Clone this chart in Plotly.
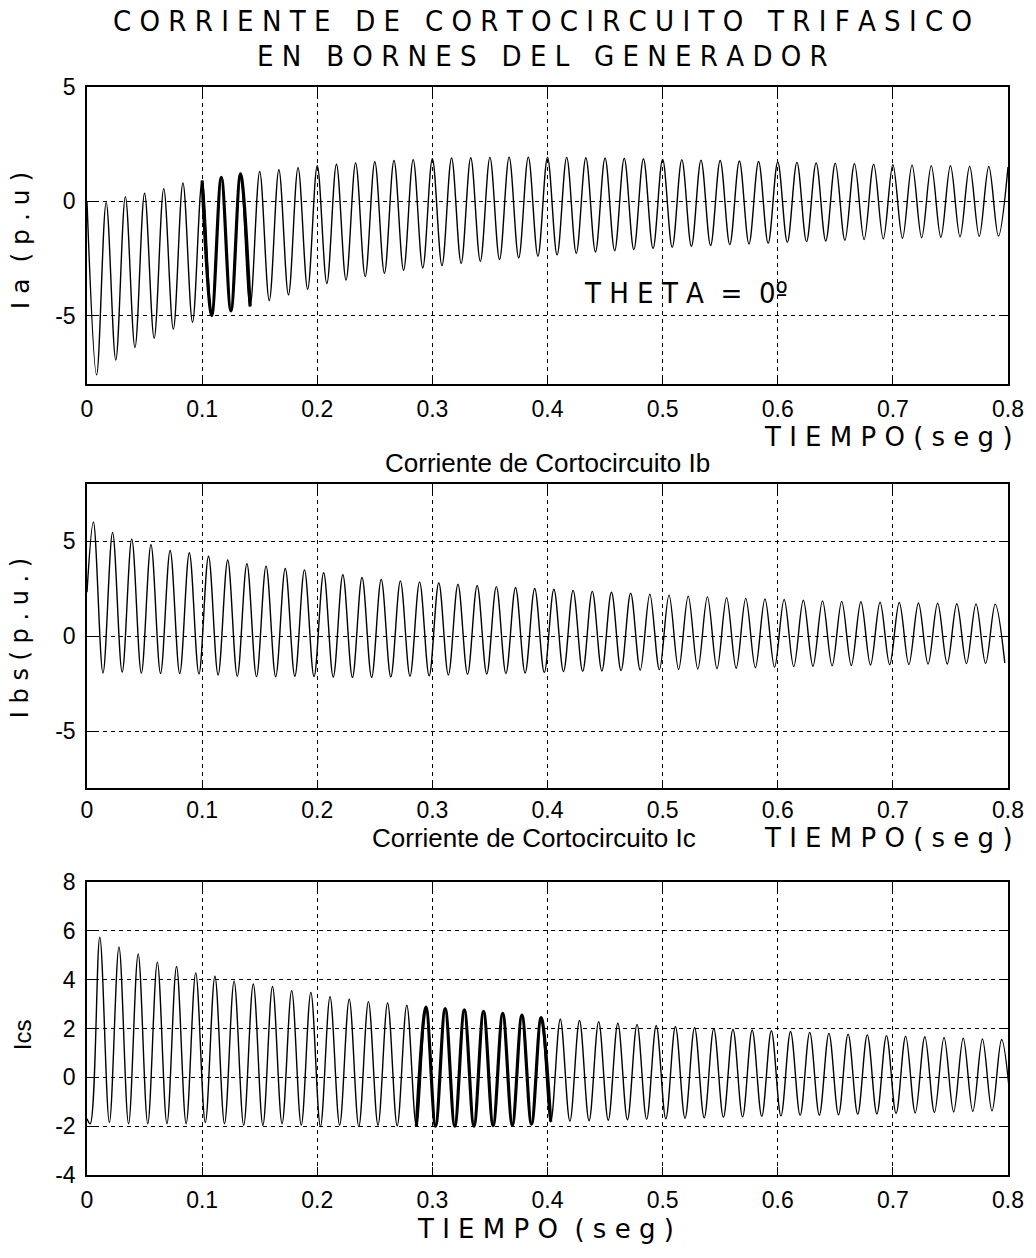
import plotly.graph_objects as go

# ---------------- data ----------------
FREQ_HZ = 60.0            # 48 cycles visible in 0..0.8 s

x_tick_vals = [0, 0.1, 0.2, 0.3, 0.4, 0.5, 0.6, 0.7, 0.8]
x_tick_text = ["0", "0.1", "0.2", "0.3", "0.4", "0.5", "0.6", "0.7", "0.8"]

# Phase a : peak values (one per cycle) and trough values (one per cycle)
ia_peak_t0 = 0.0
ia_trough_t0 = 1 / 120
ia_peaks = [0.0, -0.05, 0.2, 0.35, 0.55, 0.8, 0.9, 1.05, 1.2, 1.3, 1.38, 1.47,
            1.55, 1.62, 1.68, 1.73, 1.78, 1.82, 1.86, 1.89, 1.9, 1.92, 1.93, 1.93,
            1.92, 1.92, 1.9, 1.89, 1.88, 1.86, 1.84, 1.82, 1.8, 1.78, 1.76, 1.74,
            1.72, 1.7, 1.68, 1.66, 1.64, 1.62, 1.6, 1.58, 1.56, 1.55, 1.53, 1.52, 1.5]
ia_troughs = [-7.6, -6.95, -6.4, -6.0, -5.6, -5.3, -5.0, -4.8, -4.6, -4.35, -4.1, -3.85,
              -3.6, -3.45, -3.3, -3.15, -3.02, -2.92, -2.82, -2.72, -2.63, -2.55, -2.48, -2.41,
              -2.35, -2.28, -2.22, -2.17, -2.12, -2.07, -2.02, -1.98, -1.94, -1.9, -1.87, -1.84,
              -1.8, -1.77, -1.74, -1.71, -1.68, -1.65, -1.62, -1.6, -1.58, -1.56, -1.54, -1.52]
ia_start = None
ia_bold = (0.099, 0.143)

# Phase b
ib_peak_t0 = 1 / 180
ib_trough_t0 = 1 / 180 + 1 / 120
ib_peaks = [6.0, 5.45, 5.1, 4.8, 4.5, 4.38, 4.2, 4.0, 3.8, 3.68, 3.55, 3.48,
            3.33, 3.22, 3.08, 2.98, 2.9, 2.85, 2.8, 2.72, 2.66, 2.6, 2.55, 2.5,
            2.46, 2.4, 2.35, 2.3, 2.25, 2.2, 2.15, 2.1, 2.06, 2.02, 1.98, 1.95,
            1.92, 1.88, 1.85, 1.82, 1.8, 1.78, 1.76, 1.74, 1.72, 1.7, 1.69, 1.68]
ib_troughs = [-1.95, -1.9, -1.96, -1.97, -1.98, -2.0, -2.05, -2.12, -2.14, -2.14, -2.12, -2.14,
              -2.16, -2.18, -2.18, -2.15, -2.12, -2.1, -2.05, -2.02, -2.0, -1.98, -1.95, -1.92,
              -1.88, -1.86, -1.84, -1.82, -1.8, -1.78, -1.76, -1.74, -1.72, -1.7, -1.67, -1.64,
              -1.61, -1.59, -1.57, -1.55, -1.53, -1.51, -1.5, -1.48, -1.47, -1.45, -1.44, -1.42]
ib_start = 2.3
ib_bold = None

# Phase c
ic_peak_t0 = 1 / 90
ic_trough_t0 = 1 / 360
ic_peaks = [5.74, 5.34, 5.05, 4.72, 4.54, 4.28, 4.14, 3.94, 3.82, 3.72, 3.55, 3.48,
            3.3, 3.2, 3.1, 3.05, 2.95, 2.88, 2.82, 2.76, 2.7, 2.62, 2.55, 2.45,
            2.38, 2.33, 2.28, 2.22, 2.17, 2.12, 2.08, 2.04, 2.0, 1.97, 1.94, 1.91,
            1.88, 1.84, 1.8, 1.77, 1.74, 1.71, 1.68, 1.66, 1.63, 1.6, 1.57, 1.55]
ic_troughs = [-1.9, -1.85, -1.9, -1.9, -1.9, -1.9, -1.85, -1.9, -1.96, -1.96, -1.9, -1.96,
              -2.02, -1.96, -2.02, -1.96, -1.99, -2.0, -2.0, -2.0, -2.0, -1.98, -1.96, -1.92,
              -1.82, -1.8, -1.78, -1.76, -1.74, -1.72, -1.7, -1.68, -1.66, -1.64, -1.62, -1.6,
              -1.58, -1.56, -1.55, -1.53, -1.51, -1.5, -1.48, -1.46, -1.44, -1.42, -1.4, -1.38, -1.36]
ic_start = -1.7
ic_bold = (0.28, 0.405)

# ---------------- build waveforms ----------------
def waveform(peak_t0, peaks, trough_t0, troughs, start):
    pts = []
    if start is not None:
        pts.append((0.0, start))
    for k, v in enumerate(peaks):
        pts.append((peak_t0 + k / FREQ_HZ, v))
    for k, v in enumerate(troughs):
        pts.append((trough_t0 + k / FREQ_HZ, v))
    pts.sort()
    return [p[0] for p in pts], [p[1] for p in pts]

W = 1036
H = 1258
L, R, T, B = 87, 1010, 87, 1175   # plot-area pixel box


def px(x):
    return (x - L) / (R - L)


def py(y):
    return (B - y) / (B - T)


fig = go.Figure()
panels = [
    (ia_peak_t0, ia_peaks, ia_trough_t0, ia_troughs, ia_start, ia_bold),
    (ib_peak_t0, ib_peaks, ib_trough_t0, ib_troughs, ib_start, ib_bold),
    (ic_peak_t0, ic_peaks, ic_trough_t0, ic_troughs, ic_start, ic_bold),
]
for i, (pt0, pk, tt0, tr, st, bold) in enumerate(panels):
    xs, ys = waveform(pt0, pk, tt0, tr, st)
    sfx = "" if i == 0 else str(i + 1)
    fig.add_trace(go.Scatter(x=xs, y=ys, mode="lines",
                             line=dict(color="black", width=1.4, shape="spline", smoothing=1),
                             xaxis="x" + sfx, yaxis="y" + sfx, showlegend=False))
    if bold is not None:
        bx = [x for x in xs if bold[0] <= x <= bold[1]]
        by = [y for x, y in zip(xs, ys) if bold[0] <= x <= bold[1]]
        fig.add_trace(go.Scatter(x=bx, y=by, mode="lines",
                                 line=dict(color="black", width=3.2, shape="spline", smoothing=1),
                                 xaxis="x" + sfx, yaxis="y" + sfx, showlegend=False))

FONT = "Liberation Sans, Arial, sans-serif"
COND = "DejaVu Sans Condensed, DejaVu Sans, sans-serif"
WIDE = "DejaVu Sans, sans-serif"
tickfont = dict(family=FONT, size=23, color="black")

# pixel boxes of the three panels (top, bottom)
boxes = [(87, 384), (484, 788), (882, 1175)]
y_ranges = [[-8, 5], [-8, 8], [-4, 8]]
y_ticks = [[-5, 0, 5], [-5, 0, 5], [-4, -2, 0, 2, 4, 6, 8]]
x_standoff = [4, 1, 4]

layout = dict(width=W, height=H, paper_bgcolor="white", plot_bgcolor="white",
              margin=dict(l=L, r=W - R, t=T, b=H - B), showlegend=False)
for i in range(3):
    sfx = "" if i == 0 else str(i + 1)
    top, bot = boxes[i]
    common = dict(showline=True, linecolor="black", linewidth=1.5, mirror="ticks",
                  ticks="inside", ticklen=8, tickcolor="black", tickwidth=1,
                  showgrid=True, gridcolor="black", griddash="4px,4px", gridwidth=1,
                  zeroline=False, tickfont=tickfont)
    xa = dict(common, range=[0, 0.8], tickvals=x_tick_vals, ticktext=x_tick_text,
              domain=[0, 1], anchor="y" + sfx, ticklabelstandoff=x_standoff[i])
    ya = dict(common, range=y_ranges[i], tickvals=y_ticks[i],
              ticktext=[str(v) for v in y_ticks[i]],
              domain=[py(bot), py(top)], anchor="x" + sfx, ticklabelstandoff=5)
    if i != 0:
        xa["matches"] = "x"
    layout["xaxis" + sfx] = xa
    layout["yaxis" + sfx] = ya

fig.update_layout(**layout)

ann = []
def add(text, x, y, size, family=FONT, xanchor="center", angle=0):
    ann.append(dict(text=text, x=px(x), y=py(y), xref="paper", yref="paper",
                    showarrow=False, xanchor=xanchor, yanchor="middle",
                    textangle=angle, font=dict(family=family, size=size, color="black")))

add("C O R R I E N T E   D E   C O R T O C I R C U I T O   T R I F A S I C O", 543, 21, 29, COND)
add("E N   B O R N E S   D E L   G E N E R A D O R", 543, 56, 29, COND)
add("T H E T A  =  0º", 687, 293, 29, COND)
add("T I E M P O ( s e g )", 1017, 437, 26, WIDE, xanchor="right")
add("Corriente de Cortocircuito Ib", 548, 463, 26)
add("T I E M P O ( s e g )", 1017, 838, 26, WIDE, xanchor="right")
add("Corriente de Cortocircuito Ic", 535, 838, 26)
add("T I E M P O  ( s e g )", 546, 1229, 26, WIDE)
add("I a  ( p . u )", 20, 240, 25, WIDE, angle=-90)
add("I b s ( p . u . )", 20, 638, 24, WIDE, angle=-90)
add("Ics", 22, 1035, 24, angle=-90)
fig.update_layout(annotations=ann)

fig.write_html("out.html")
